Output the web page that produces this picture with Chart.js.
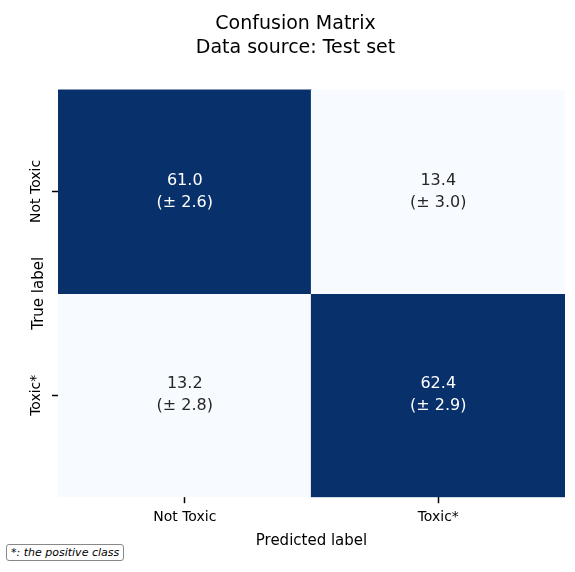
<!DOCTYPE html>
<html>
<head>
<meta charset="utf-8">
<script src="https://cdn.jsdelivr.net/npm/chart.js@4"></script>
<style>
  body { margin: 0; background: #fff; font-family: "DejaVu Sans", sans-serif; }
  #wrap { position: relative; width: 575px; height: 572px; }
  #note { position: absolute; left: 6px; top: 544px; font-size: 11px; font-style: italic;
          border: 1px solid #888; border-radius: 3px; padding: 1px 4px; background: #fff; }
</style>
</head>
<body>
<div id="wrap">
  <canvas id="cm" width="575" height="572"></canvas>
  <div id="note">*: the positive class</div>
</div>
<script>
// Data
const predLabels = ["Not Toxic", "Toxic*"];
const trueLabels = ["Not Toxic", "Toxic*"];
const means = [[61.0, 13.4], [13.2, 62.4]];
const stds = [[2.6, 3.0], [2.8, 2.9]];

const dark = "#08306b", light = "#f7fbff";

// one dataset per true-label row, floating bars over y
const datasets = trueLabels.map((t, i) => ({
    label: t,
    data: predLabels.map(() => [1 - i, 2 - i]),
    backgroundColor: means[i].map(v => v > 37 ? dark : light),
    barPercentage: 1,
    categoryPercentage: 1,
    borderWidth: 0,
    inflateAmount: 0.6
}));

const cellText = {
    id: "cellText",
    afterDatasetsDraw(chart) {
        const ctx = chart.ctx;
        ctx.save();
        ctx.font = "16px 'DejaVu Sans'";
        ctx.textAlign = "center";
        ctx.textBaseline = "middle";
        chart.data.datasets.forEach((ds, i) => {
            chart.getDatasetMeta(i).data.forEach((bar, j) => {
                const cy = (bar.y + bar.base) / 2;
                ctx.fillStyle = means[i][j] > 37 ? "#fff" : "#262626";
                ctx.fillText(means[i][j].toFixed(1), bar.x, cy - 11);
                ctx.fillText("(± " + stds[i][j].toFixed(1) + ")", bar.x, cy + 11);
            });
        });
        // y tick labels, rotated
        const y = chart.scales.y, left = chart.chartArea.left;
        ctx.fillStyle = "#000";
        ctx.font = "14px 'DejaVu Sans'";
        [[1.5, trueLabels[0]], [0.5, trueLabels[1]]].forEach(([v, t]) => {
            ctx.save();
            ctx.translate(left - 22, y.getPixelForValue(v));
            ctx.rotate(-Math.PI / 2);
            ctx.fillText(t, 0, 0);
            ctx.restore();
        });
        ctx.restore();
    }
};

new Chart(document.getElementById("cm"), {
    type: "bar",
    data: { labels: predLabels, datasets: datasets },
    options: {
        responsive: false,
        animation: false,
        layout: { padding: { left: 26, right: 10, top: 6, bottom: 22 } },
        plugins: {
            legend: { display: false },
            tooltip: { enabled: false },
            title: {
                display: true,
                text: ["Confusion Matrix", "Data source: Test set"],
                color: "#000",
                font: { family: "DejaVu Sans", size: 19, weight: "normal", lineHeight: 1.25 },
                padding: { top: 6, bottom: 30 }
            }
        },
        scales: {
            x: {
                stacked: true,
                grid: { drawOnChartArea: false, offset: false, tickLength: 6, color: "#000", tickWidth: 1.5 },
                border: { display: false },
                ticks: { color: "#000", font: { family: "DejaVu Sans", size: 14 }, padding: 6 },
                title: { display: true, text: "Predicted label", color: "#000",
                         font: { family: "DejaVu Sans", size: 15 }, padding: 0 }
            },
            y: {
                min: 0, max: 2,
                afterBuildTicks: s => { s.ticks = [{ value: 1.5 }, { value: 0.5 }]; },
                grid: { drawOnChartArea: false, tickLength: 6, color: "#000", tickWidth: 1.5 },
                border: { display: false },
                ticks: { display: false },
                title: { display: true, text: "True label", color: "#000",
                         font: { family: "DejaVu Sans", size: 15 }, padding: 4 }
            }
        }
    },
    plugins: [cellText]
});
</script>
</body>
</html>
